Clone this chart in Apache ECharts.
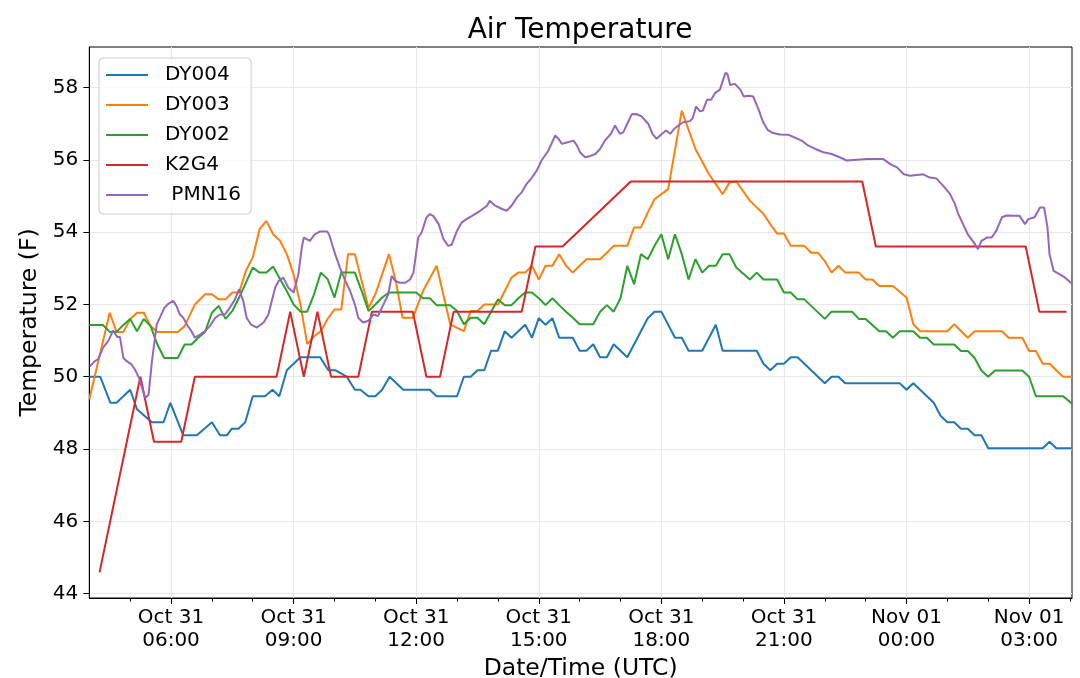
<!DOCTYPE html>
<html>
<head>
<meta charset="utf-8">
<title>Air Temperature</title>
<script src="https://cdn.jsdelivr.net/npm/echarts@6/dist/echarts.min.js"></script>
<style>
  html, body { margin: 0; padding: 0; background: #fff; }
  #container { width: 1080px; height: 678px; }
</style>
</head>
<body>
<div id="container"></div>
<script>
// x values are minutes after Oct 31 04:00 UTC, y values are deg F
var dy004 = [[0,50.0],[16,50.0],[31,49.28],[40,49.28],[60,49.64],[70,49.1],[92,48.74],[109,48.74],[119,49.28],[138,48.38],[158,48.38],[180,48.74],[192,48.38],[202,48.38],[209,48.56],[219,48.56],[229,48.74],[240,49.46],[258,49.46],[269,49.64],[279,49.46],[290,50.18],[310,50.54],[339,50.54],[351,50.18],[361,50.18],[378,50.0],[390,49.64],[398,49.64],[410,49.46],[420,49.46],[430,49.64],[441,50.0],[461,49.64],[500,49.64],[510,49.46],[540,49.46],[550,50.0],[560,50.0],[570,50.18],[580,50.18],[590,50.72],[600,50.72],[610,51.26],[620,51.08],[640,51.44],[650,51.08],[660,51.62],[670,51.44],[680,51.62],[690,51.08],[710,51.08],[720,50.72],[730,50.72],[740,50.9],[750,50.54],[760,50.54],[770,50.9],[790,50.54],[810,51.26],[820,51.62],[830,51.8],[840,51.8],[860,51.08],[870,51.08],[880,50.72],[900,50.72],[920,51.44],[930,50.72],[980,50.72],[990,50.36],[1000,50.18],[1010,50.36],[1020,50.36],[1030,50.54],[1040,50.54],[1080,49.82],[1090,50.0],[1100,50.0],[1110,49.82],[1190,49.82],[1200,49.64],[1210,49.82],[1240,49.28],[1250,48.92],[1260,48.74],[1270,48.74],[1280,48.56],[1290,48.56],[1300,48.38],[1310,48.38],[1320,48.02],[1400,48.02],[1410,48.2],[1420,48.02],[1443,48.02]];

var dy003 = [[0,49.38],[30,51.77],[40,51.24],[50,51.24],[60,51.59],[70,51.77],[80,51.77],[90,51.4],[100,51.24],[130,51.24],[140,51.4],[155,52.0],[170,52.28],[180,52.28],[190,52.14],[200,52.14],[210,52.33],[220,52.33],[230,52.93],[240,53.3],[250,54.08],[260,54.31],[270,53.94],[280,53.76],[290,53.39],[300,52.83],[310,52.0],[320,50.9],[330,51.12],[340,51.26],[350,51.6],[360,51.86],[370,51.86],[380,53.39],[390,53.39],[400,52.65],[410,51.91],[420,52.28],[430,52.83],[440,53.39],[450,52.65],[460,51.63],[475,51.63],[490,52.37],[510,53.07],[530,51.45],[550,51.26],[560,51.82],[570,51.82],[580,52.0],[600,52.0],[610,52.37],[620,52.74],[630,52.88],[640,52.88],[650,53.07],[660,52.69],[670,53.07],[680,53.07],[690,53.39],[700,53.07],[710,52.88],[720,53.07],[730,53.25],[750,53.25],[760,53.43],[770,53.62],[790,53.62],[800,54.13],[810,54.13],[820,54.54],[830,54.91],[850,55.19],[870,57.36],[890,56.3],[910,55.6],[930,55.05],[940,55.37],[950,55.4],[970,54.87],[990,54.5],[1000,54.22],[1010,53.96],[1020,53.96],[1030,53.62],[1050,53.62],[1060,53.43],[1070,53.43],[1080,53.2],[1090,52.88],[1100,53.07],[1110,52.88],[1130,52.88],[1140,52.69],[1150,52.69],[1160,52.51],[1180,52.51],[1200,52.19],[1210,51.45],[1220,51.26],[1260,51.26],[1270,51.45],[1290,51.08],[1300,51.26],[1340,51.26],[1350,51.08],[1370,51.08],[1380,50.71],[1390,50.71],[1400,50.36],[1410,50.36],[1430,50.0],[1443,50.0]];

var dy002 = [[0,51.43],[20,51.43],[30,51.24],[40,51.24],[50,51.43],[60,51.6],[70,51.26],[80,51.6],[90,51.4],[100,50.89],[110,50.52],[130,50.52],[140,50.89],[150,50.89],[160,51.08],[170,51.24],[180,51.77],[190,51.96],[200,51.6],[210,51.82],[220,52.19],[240,53.02],[250,52.88],[260,52.88],[270,53.05],[280,52.7],[290,52.37],[300,52.0],[310,51.8],[320,51.8],[330,52.28],[340,52.88],[350,52.7],[360,52.19],[370,52.88],[390,52.88],[400,52.37],[410,51.82],[420,52.0],[430,52.19],[440,52.33],[480,52.33],[490,52.17],[500,52.17],[510,51.98],[530,51.98],[540,51.82],[550,51.45],[560,51.63],[570,51.63],[580,51.45],[590,51.8],[600,52.14],[610,51.98],[620,51.98],[630,52.17],[640,52.33],[650,52.33],[660,52.17],[670,51.98],[680,52.17],[690,51.98],[700,51.8],[710,51.63],[720,51.45],[740,51.45],[750,51.8],[760,51.98],[770,51.8],[780,52.17],[790,53.07],[800,52.56],[810,53.39],[820,53.25],[830,53.62],[840,53.94],[850,53.25],[860,53.94],[870,53.39],[880,52.69],[890,53.25],[900,52.88],[910,53.07],[920,53.07],[930,53.39],[940,53.39],[950,53.02],[970,52.69],[980,52.88],[990,52.69],[1010,52.69],[1020,52.33],[1030,52.33],[1040,52.14],[1050,52.14],[1080,51.6],[1090,51.8],[1120,51.8],[1130,51.6],[1140,51.6],[1160,51.26],[1170,51.26],[1180,51.08],[1190,51.26],[1210,51.26],[1220,51.08],[1230,51.08],[1240,50.89],[1270,50.89],[1280,50.71],[1290,50.71],[1300,50.52],[1310,50.17],[1320,50.0],[1330,50.17],[1370,50.17],[1380,50.0],[1390,49.46],[1430,49.46],[1443,49.25]];

var k2g4 = [[15,44.59],[75,50.0],[95,48.2],[135,48.2],[155,50.0],[275,50.0],[295,51.8],[315,50.0],[335,51.8],[355,50.0],[395,50.0],[415,51.8],[475,51.8],[495,50.0],[515,50.0],[535,51.8],[635,51.8],[655,53.6],[695,53.6],[795,55.4],[1135,55.4],[1155,53.6],[1375,53.6],[1395,51.8],[1435,51.8]];

var pmn16 = [[1,50.29],[8,50.43],[13,50.48],[20,50.8],[28,50.99],[35,51.28],[41,51.1],[45,51.1],[50,50.52],[55,50.43],[62,50.34],[67,50.2],[73,49.97],[82,49.41],[87,49.5],[92,50.43],[99,51.45],[104,51.65],[110,51.9],[115,52.0],[123,52.1],[128,51.96],[133,51.72],[138,51.63],[143,51.45],[150,51.26],[155,51.08],[163,51.17],[170,51.26],[177,51.4],[185,51.63],[192,51.72],[199,51.72],[206,51.9],[214,52.14],[220,52.42],[226,52.1],[231,51.63],[237,51.45],[246,51.36],[256,51.5],[263,51.72],[268,52.1],[273,52.47],[278,52.65],[285,52.74],[292,52.47],[300,52.33],[307,52.83],[312,53.57],[315,53.85],[324,53.76],[331,53.94],[339,54.02],[349,54.02],[352,53.94],[361,53.39],[368,53.02],[376,52.65],[383,52.37],[390,52.0],[395,51.63],[402,51.5],[410,51.55],[417,51.72],[424,51.68],[432,52.0],[439,52.28],[444,52.79],[449,52.65],[456,52.6],[464,52.6],[471,52.69],[476,52.88],[483,53.85],[488,53.99],[495,54.4],[500,54.5],[505,54.45],[513,54.22],[520,53.81],[527,53.62],[532,53.65],[540,54.04],[547,54.27],[554,54.36],[562,54.45],[574,54.59],[584,54.73],[588,54.87],[596,54.73],[606,54.64],[613,54.59],[620,54.73],[628,54.96],[635,55.1],[642,55.33],[650,55.51],[657,55.7],[664,55.98],[674,56.25],[684,56.67],[689,56.58],[694,56.44],[701,56.48],[711,56.53],[716,56.4],[721,56.2],[728,56.07],[735,56.1],[743,56.16],[750,56.3],[757,56.53],[766,56.72],[772,56.95],[779,56.72],[784,56.76],[792,57.08],[797,57.27],[804,57.26],[811,57.2],[821,56.99],[827,56.72],[833,56.58],[841,56.72],[847,56.81],[853,56.72],[859,56.86],[865,56.95],[872,57.04],[882,57.07],[886,57.15],[891,57.47],[897,57.34],[901,57.36],[907,57.66],[913,57.66],[919,57.85],[926,57.94],[934,58.4],[937,58.38],[941,58.07],[948,58.1],[956,57.94],[961,57.75],[968,57.77],[975,57.75],[983,57.38],[989,57.06],[996,56.83],[1004,56.74],[1014,56.7],[1027,56.69],[1034,56.63],[1046,56.53],[1056,56.39],[1066,56.3],[1078,56.21],[1090,56.16],[1102,56.07],[1112,55.98],[1127,56.0],[1142,56.02],[1166,56.02],[1176,55.88],[1186,55.79],[1196,55.6],[1205,55.56],[1215,55.58],[1225,55.6],[1234,55.51],[1244,55.48],[1254,55.28],[1264,55.05],[1271,54.78],[1276,54.5],[1283,54.22],[1290,53.94],[1299,53.71],[1305,53.53],[1310,53.76],[1318,53.85],[1325,53.85],[1332,54.04],[1340,54.41],[1347,54.46],[1359,54.45],[1366,54.45],[1374,54.22],[1379,54.36],[1388,54.41],[1396,54.68],[1402,54.68],[1407,54.13],[1410,53.39],[1416,52.93],[1425,52.83],[1433,52.74],[1443,52.57]];

var seriesNames = ['DY004', 'DY003', 'DY002', 'K2G4', ' PMN16'];
var seriesColors = ['#1f77b4', '#ff7f0e', '#2ca02c', '#d62728', '#9467bd'];
var seriesData = [dy004, dy003, dy002, k2g4, pmn16];

var majorTicks = [120, 300, 480, 660, 840, 1020, 1200, 1380];
var minorTicks = [60, 180, 240, 360, 420, 540, 600, 720, 780, 900, 960, 1080, 1140, 1260, 1320, 1440];
var yTicks = [44, 46, 48, 50, 52, 54, 56, 58];

function timeLabel(m) {
  var h = 4 + m / 60;
  var day = h < 24 ? 'Oct 31' : 'Nov 01';
  var hh = Math.round(h) % 24;
  return day + '\n' + (hh < 10 ? '0' : '') + hh + ':00';
}

var FONT = 'DejaVu Sans';
var dom = document.getElementById('container');
var myChart = echarts.init(dom, null, { renderer: 'canvas' });

var option = {
  animation: false,
  backgroundColor: '#ffffff',
  textStyle: { fontFamily: FONT, color: '#000' },
  title: {
    text: 'Air Temperature',
    left: 575,
    textAlign: 'center',
    top: 12,
    textStyle: { fontFamily: FONT, fontSize: 28, fontWeight: 'normal', color: '#000' }
  },
  legend: {
    orient: 'vertical',
    left: 99,
    top: 58,
    icon: 'rect',
    itemWidth: 42,
    itemHeight: 2,
    itemGap: 8,
    padding: [6, 10, 8, 7],
    backgroundColor: 'rgba(255,255,255,0.8)',
    borderColor: '#cccccc',
    borderWidth: 1,
    borderRadius: 4,
    textStyle: { fontFamily: FONT, fontSize: 20, lineHeight: 22, color: '#000', padding: [0, 0, 0, 12] },
    data: seriesNames
  },
  grid: {
    left: 89.3,
    right: 8,
    top: 47,
    bottom: 80,
    show: true,
    borderColor: '#000',
    borderWidth: 1,
    containLabel: false,
    outerBoundsMode: 'none'
  },
  xAxis: [
    {
      type: 'value',
      min: 0,
      max: 1443,
      name: 'Date/Time (UTC)',
      nameLocation: 'middle',
      nameGap: 57,
      nameTextStyle: { fontFamily: FONT, fontSize: 23.5, color: '#000' },
      axisLine: { show: true, lineStyle: { color: '#000', width: 1 } },
      axisTick: { show: true, length: 6, customValues: majorTicks, lineStyle: { color: '#000' } },
      axisLabel: {
        customValues: majorTicks,
        formatter: timeLabel,
        fontFamily: FONT,
        fontSize: 20,
        lineHeight: 23,
        color: '#000',
        margin: 8
      },
      splitLine: { show: true, lineStyle: { color: '#e8e8e8', width: 1 } }
    },
    {
      type: 'value',
      min: 0,
      max: 1443,
      position: 'bottom',
      axisLine: { show: false },
      axisTick: { show: true, length: 3.5, customValues: minorTicks, lineStyle: { color: '#000' } },
      axisLabel: { show: false },
      splitLine: { show: false }
    }
  ],
  yAxis: {
    type: 'value',
    min: 43.88,
    max: 59.12,
    name: 'Temperature (F)',
    nameLocation: 'middle',
    nameGap: 46,
    nameTextStyle: { fontFamily: FONT, fontSize: 23.5, color: '#000' },
    axisLine: { show: true, lineStyle: { color: '#000', width: 1 } },
    axisTick: { show: true, length: 6, customValues: yTicks, lineStyle: { color: '#000' } },
    axisLabel: { customValues: yTicks, fontFamily: FONT, fontSize: 20, color: '#000', margin: 11 },
    splitLine: { show: true, lineStyle: { color: '#e8e8e8', width: 1 } }
  },
  series: seriesData.map(function (d, i) {
    return {
      name: seriesNames[i],
      type: 'line',
      xAxisIndex: 0,
      data: d,
      showSymbol: false,
      symbol: 'none',
      color: seriesColors[i],
      lineStyle: { width: 2, color: seriesColors[i] },
      clip: true
    };
  })
};

if (option && typeof option === 'object') {
  myChart.setOption(option);
}

window.addEventListener('resize', myChart.resize);
</script>
</body>
</html>
